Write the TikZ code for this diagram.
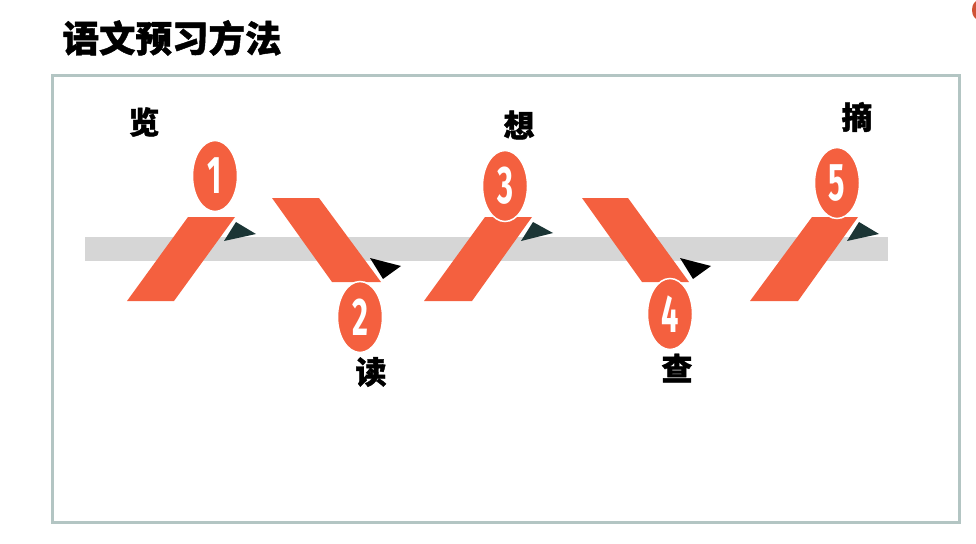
\documentclass[tikz,border=0pt]{standalone}
\usepackage{fontspec}
\newfontfamily\cjk{Noto Sans CJK SC}[BoldFeatures={FakeBold=1.2}]
\newfontfamily\digf{Fira Sans}
\usetikzlibrary{shapes.geometric}
\definecolor{orng}{HTML}{F4603F}
\definecolor{darkt}{HTML}{1B3535}
\definecolor{barg}{HTML}{D6D6D6}
\definecolor{framec}{HTML}{B3C5C3}
\tikzset{
  bar/.style={fill=barg,draw=none},
  slab/.style={fill=orng,draw=none},
  tipA/.style={fill=darkt,draw=none},
  tipB/.style={fill=black,draw=none},
  badge/.style={ellipse,fill=orng,draw=white,line width=1.5pt,minimum width=45pt,minimum height=71pt,inner sep=0pt,text=white,font=\digf\bfseries\fontsize{53}{53}\selectfont},
  word/.style={font=\cjk\bfseries\fontsize{31}{31}\selectfont,text=black,inner sep=0pt},
}
\newcommand{\dg}[1]{\scalebox{0.58}[1]{#1}}
\begin{document}
\begin{tikzpicture}[x=1pt,y=-1pt]
\useasboundingbox (0,0) rectangle (976,543);
% title
\node[font=\cjk\bfseries\fontsize{36.5}{36.5}\selectfont,inner sep=0pt] (title) at (172,38) {语文预习方法};
% top-right artifact
\fill[orng!85!black] (979,10) ellipse (7 and 10);
% frame
\draw[framec,line width=3pt] (52,75) rectangle (959,522);
% bar
\fill[bar] (85,237) rectangle (888,261);
% step 1
\fill[slab] (188,217) -- (235,217) -- (174,301) -- (127,301) -- cycle;
\fill[tipA] (224,241) -- (236,222) -- (256,234) -- cycle;
\node[badge] (b1) at (215,176) {\dg{1}};
\node[word] (w1) at (144,122) {览};
% step 2
\fill[slab] (272,198) -- (319,198) -- (381,282) -- (332,282) -- cycle;
\fill[tipB] (370,258) -- (401,266) -- (383,279) -- cycle;
\node[badge] (b2) at (360,317) {\dg{2}};
\node[word] (w2) at (371,372) {读};
% step 3
\fill[slab] (485,217) -- (532,217) -- (472,301) -- (424,301) -- cycle;
\fill[tipA] (521,241) -- (533,222) -- (553,233) -- cycle;
\node[badge] (b3) at (505,186) {\dg{3}};
\node[word] (w3) at (519,125) {想};
% step 4
\fill[slab] (582,198) -- (628,198) -- (689,282) -- (642,282) -- cycle;
\fill[tipB] (680,258) -- (711,266) -- (693,279) -- cycle;
\node[badge] (b4) at (670,314) {\dg{4}};
\node[word] (w4) at (677,368) {查};
% step 5
\fill[slab] (812,217) -- (858,217) -- (798,301) -- (750,301) -- cycle;
\fill[tipA] (847,241) -- (859,222) -- (879,234) -- cycle;
\node[badge] (b5) at (837,183) {\dg{5}};
\node[word] (w5) at (857,117) {摘};
\end{tikzpicture}
\end{document}
